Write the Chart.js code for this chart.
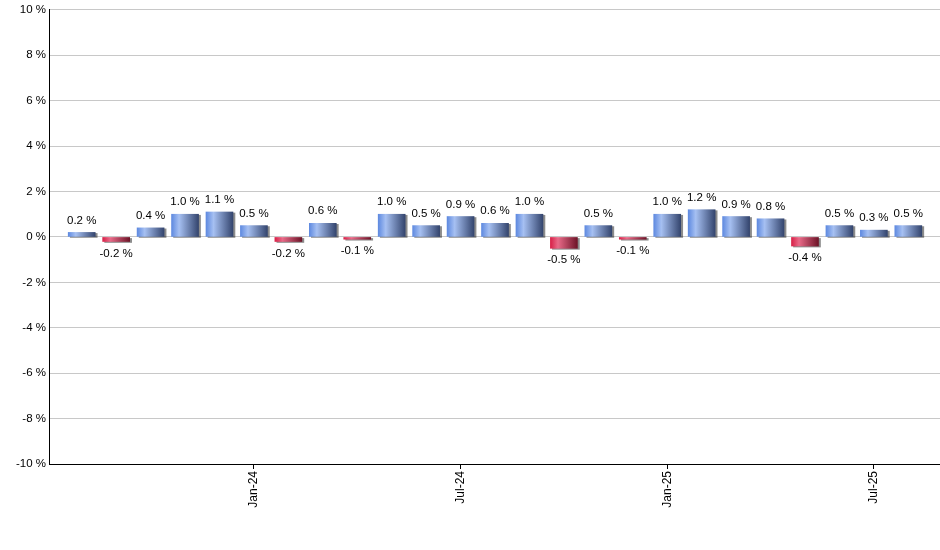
<!DOCTYPE html>
<html>
<head>
<meta charset="utf-8">
<script src="https://cdn.jsdelivr.net/npm/chart.js@4.4.1/dist/chart.umd.min.js"></script>
<style>
html,body{margin:0;padding:0;background:#fff;}
#wrap{width:940px;height:550px;position:relative;}
</style>
</head>
<body>
<div id="wrap"><canvas id="c"></canvas></div>
<script>
const months = ["Aug-23","Sep-23","Oct-23","Nov-23","Dec-23","Jan-24","Feb-24","Mar-24","Apr-24","May-24","Jun-24","Jul-24","Aug-24","Sep-24","Oct-24","Nov-24","Dec-24","Jan-25","Feb-25","Mar-25","Apr-25","May-25","Jun-25","Jul-25","Aug-25"];
const values = [0.2,-0.2,0.4,1.0,1.1,0.5,-0.2,0.6,-0.1,1.0,0.5,0.9,0.6,1.0,-0.5,0.5,-0.1,1.0,1.2,0.9,0.8,-0.4,0.5,0.3,0.5];
const tickMonths = ["Jan-24","Jul-24","Jan-25","Jul-25"];
const yTicks = [-10,-8,-6,-4,-2,0,2,4,6,8,10];

const points = values.map((v,i)=>({x:i,y:v}));
const BAR_W = 27;

function barFill(ctx){
  const chart = ctx.chart;
  const xs = chart.scales.x;
  if(!xs || !ctx.raw) return '#7a9ce0';
  const cx = xs.getPixelForValue(ctx.raw.x);
  if(!isFinite(cx)) return ctx.raw.y >= 0 ? '#7a9ce0' : '#c8304f';
  const x0 = cx - BAR_W/2, x1 = cx + BAR_W/2;
  const g = chart.ctx.createLinearGradient(x0,0,x1,0);
  if(ctx.raw.y >= 0){
    g.addColorStop(0,'#5f8ae0');
    g.addColorStop(0.28,'#a6c0f2');
    g.addColorStop(1,'#34456e');
  } else {
    g.addColorStop(0,'#d82148');
    g.addColorStop(0.28,'#e86a88');
    g.addColorStop(1,'#6e1428');
  }
  return g;
}

const shadowPlugin = {
  id:'shadow',
  beforeDatasetDraw(chart){
    const c = chart.ctx;
    c.save();
    c.shadowColor='rgba(0,0,0,0.45)';
    c.shadowOffsetX=2;
    c.shadowOffsetY=1;
    c.shadowBlur=0;
  },
  afterDatasetDraw(chart){
    chart.ctx.restore();
  }
};

const labelPlugin = {
  id:'valLabels',
  afterDatasetsDraw(chart){
    const c = chart.ctx;
    const meta = chart.getDatasetMeta(0);
    c.save();
    c.font = '11.5px "Liberation Sans", Arial, sans-serif';
    c.fillStyle = '#000';
    c.textAlign = 'center';
    c.textBaseline = 'middle';
    meta.data.forEach((el,i)=>{
      const v = values[i];
      const txt = v.toFixed(1) + ' %';
      const y = v >= 0 ? el.y - 12 : el.y + 12;
      c.fillText(txt, el.x, y);
    });
    c.restore();
  }
};

new Chart(document.getElementById('c'),{
  type:'bar',
  data:{datasets:[{data:points,backgroundColor:barFill,borderWidth:0,barThickness:BAR_W}]},
  options:{
    responsive:true,
    maintainAspectRatio:false,
    animation:false,
    layout:{padding:{top:9,right:0,left:0,bottom:0}},
    plugins:{legend:{display:false},tooltip:{enabled:false}},
    scales:{
      x:{
        type:'linear',
        offset:false,
        min:-0.95,
        max:24.92,
        afterBuildTicks(s){ s.ticks = tickMonths.map(m=>({value:months.indexOf(m)})); },
        afterFit(s){ s.height = 86; },
        ticks:{
          callback:(v)=>months[v],
          minRotation:90,maxRotation:90,
          autoSkip:false,
          color:'#000',
          padding:2,
          font:{family:'"Liberation Sans", Arial, sans-serif',size:12}
        },
        grid:{offset:false,drawOnChartArea:false,drawTicks:true,tickLength:5,tickColor:'#000',tickWidth:1},
        border:{display:true,color:'#000',width:1}
      },
      y:{
        min:-10,max:10,
        afterBuildTicks(s){ s.ticks = yTicks.map(v=>({value:v})); },
        afterFit(s){ s.width = 49; },
        ticks:{
          callback:(v)=>v+' %',
          color:'#000',
          padding:3,
          font:{family:'"Liberation Sans", Arial, sans-serif',size:11.5}
        },
        grid:{color:'#c8c8c8',lineWidth:1,drawTicks:false},
        border:{display:true,color:'#000',width:1}
      }
    }
  },
  plugins:[shadowPlugin,labelPlugin]
});
</script>
</body>
</html>
